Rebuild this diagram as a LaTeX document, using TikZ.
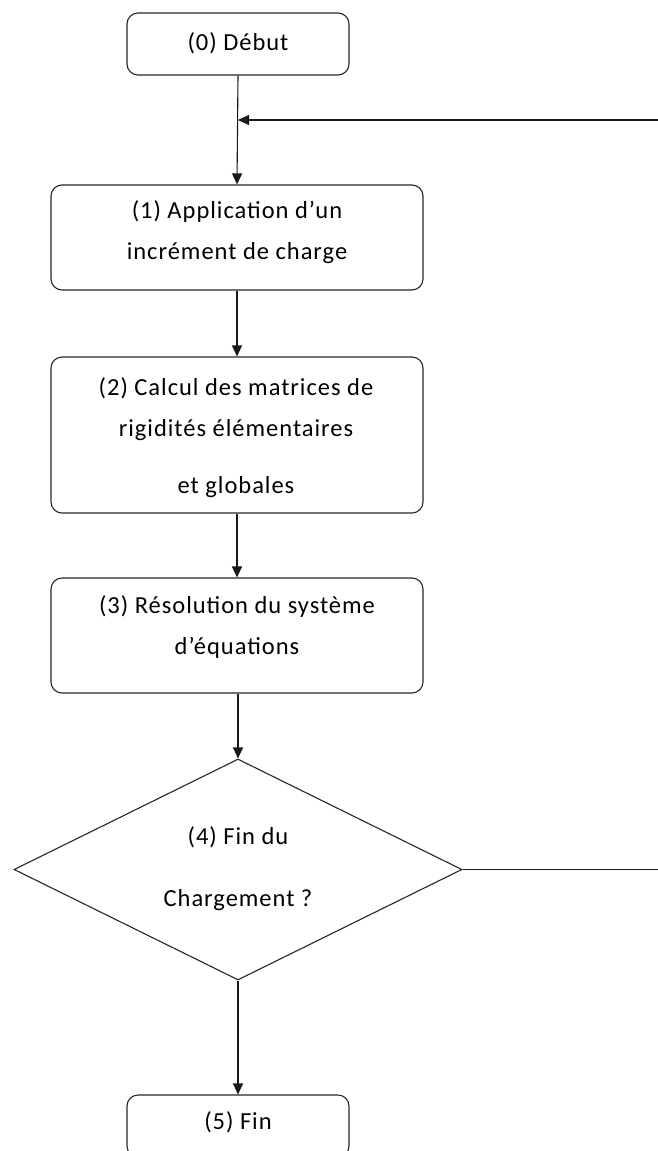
\documentclass[tikz,border=0pt]{standalone}
\usepackage{fontspec}
\setmainfont[LetterSpace=4]{Carlito}
\usetikzlibrary{shapes.geometric,arrows.meta}
\begin{document}
\begin{tikzpicture}[x=1pt,y=-1pt,
  box/.style={draw=black!85, line width=1.1pt, rounded corners=11pt, inner sep=0pt},
  dia/.style={draw=black!85, line width=1.1pt, diamond, inner sep=0pt},
  txt/.style={align=center, inner sep=0pt, font=\fontsize{24.5}{41}\selectfont},
  arr/.style={line width=1.1pt, draw=black!90, -{Triangle[length=11pt,width=10pt]}},
  ln/.style={line width=1.1pt, draw=black!90}]
\useasboundingbox (0,0) rectangle (658,1151);
\node[box, minimum width=222pt, minimum height=62pt] (b0) at (238,44) {};
\node[box, minimum width=372pt, minimum height=105pt] (b1) at (237,237.5) {};
\node[box, minimum width=372pt, minimum height=156pt] (b2) at (237,435) {};
\node[box, minimum width=372pt, minimum height=115pt] (b3) at (237,635.5) {};
\node[dia, minimum width=448pt, minimum height=221pt] (d4) at (238,869.5) {};
\node[box, minimum width=222pt, minimum height=62pt] (b5) at (238,1126) {};
\node[txt] (t0) at (238,43) {(0) Début};
\node[txt] (t1) at (237,232) {(1) Application d’un\\incrément de charge};
\node[txt] (t2) at (236,438) {(2) Calcul des matrices de\\rigidités élémentaires\\[16pt]et globales};
\node[txt] (t3) at (237,627) {(3) Résolution du système\\d’équations};
\node[txt] (t4) at (238,869) {(4) Fin du\\[21pt]Chargement ?};
\node[txt] (t5) at (238,1122) {(5) Fin};
\coordinate (fb) at (658,120);
\draw[arr] (fb) -- (fb -| b0.south);
\draw[arr] (b0.south) -- (b1.north);
\draw[arr] (b1.south) -- (b2.north);
\draw[arr] (b2.south) -- (b3.north);
\draw[arr] (b3.south -| d4.north) -- (d4.north);
\draw[arr] (d4.south) -- (b5.north);
\draw[ln] (d4.east) -- (d4.east -| fb);
\end{tikzpicture}
\end{document}
